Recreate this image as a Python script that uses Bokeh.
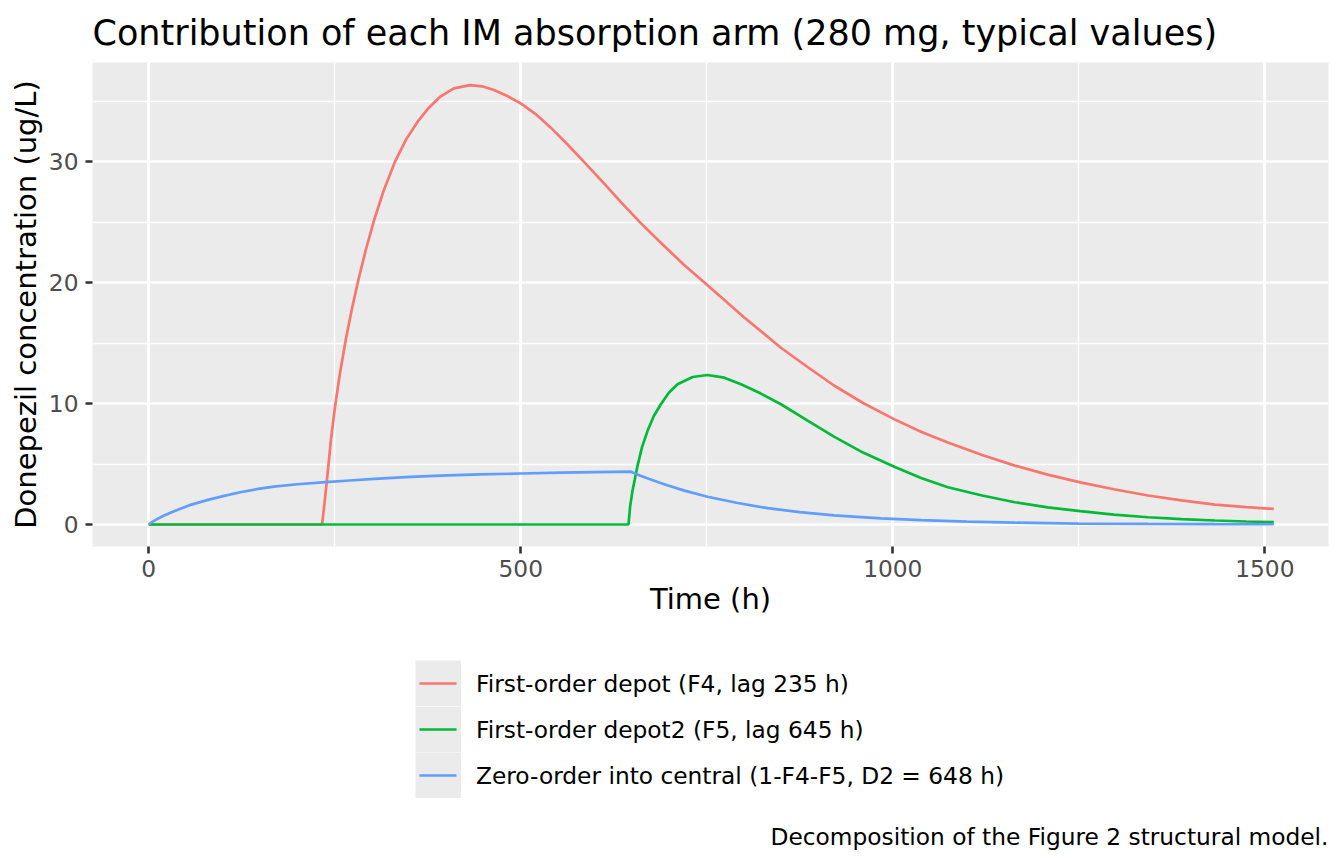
from bokeh.plotting import figure
from bokeh.layouts import column
from bokeh.models import Legend, LegendItem, FixedTicker, Label
from bokeh.embed import file_html
from bokeh.resources import INLINE

# ---- data ----
red_t = [0, 233, 236, 240, 245, 250, 257, 265, 273, 282, 292, 303, 316, 331, 346, 361, 376,
         392, 410, 432, 448, 464, 482, 501, 520, 540, 562, 585, 610, 635, 661, 690, 720, 751,
         800, 850, 885, 921, 960, 1001, 1037, 1074, 1120, 1164, 1208, 1252, 1297, 1343, 1388,
         1433, 1475, 1512]
red_y = [0, 0, 1.6, 3.95, 7.03, 9.55, 12.49, 15.33, 17.81, 20.29, 22.77, 25.19, 27.66, 30.02,
         31.86, 33.28, 34.44, 35.4, 36.08, 36.35, 36.25, 35.95, 35.45, 34.8, 33.95, 32.85, 31.5,
         30.0, 28.35, 26.65, 24.95, 23.2, 21.45, 19.8, 17.15, 14.6, 13.05, 11.5, 10.05, 8.74,
         7.7, 6.79, 5.75, 4.87, 4.13, 3.49, 2.92, 2.4, 1.99, 1.65, 1.44, 1.29]

green_t = [0, 644.8, 647, 650.2, 657, 663, 670.4, 679, 688.3, 699, 710.7, 731, 751, 773.5, 796,
           822, 849.7, 885, 921.5, 960, 1002, 1038, 1074, 1120, 1164, 1208, 1252, 1297, 1343,
           1388, 1433, 1475, 1512]
green_y = [0, 0, 1.5, 2.8, 4.87, 6.4, 7.75, 9.0, 9.95, 10.9, 11.6, 12.2, 12.37, 12.15, 11.6,
           10.85, 9.95, 8.62, 7.25, 5.95, 4.78, 3.85, 3.08, 2.4, 1.84, 1.42, 1.10, 0.82, 0.6,
           0.45, 0.33, 0.25, 0.19]

blue_t = [0, 5, 10, 20, 34, 55, 78.5, 100, 123, 145, 168, 200, 238, 270, 303, 345, 392, 445,
          500, 554, 600, 648, 660, 672, 685, 697, 720, 751, 790, 832, 875, 921, 984, 1038,
          1100, 1164, 1250, 1343, 1433, 1512]
blue_y = [0, 0.22, 0.4, 0.72, 1.1, 1.6, 2.02, 2.35, 2.67, 2.92, 3.13, 3.33, 3.5, 3.64, 3.77,
          3.92, 4.04, 4.14, 4.22, 4.29, 4.33, 4.37, 4.05, 3.78, 3.5, 3.25, 2.8, 2.3, 1.8, 1.35,
          1.02, 0.76, 0.5, 0.36, 0.23, 0.15, 0.08, 0.05, 0.03, 0.02]

labels = ["First-order depot (F4, lag 235 h)",
          "First-order depot2 (F5, lag 645 h)",
          "Zero-order into central (1-F4-F5, D2 = 648 h)"]
colors = ["#F8766D", "#00BA38", "#619CFF"]

x_ticks = [0, 500, 1000, 1500]
x_minor = [250, 750, 1250]
y_ticks = [0, 10, 20, 30]
y_minor = [5, 15, 25, 35]

title_text = "Contribution of each IM absorption arm (280 mg, typical values)"
x_label = "Time (h)"
y_label = "Donepezil concentration (ug/L)"
caption = "Decomposition of the Figure 2 structural model."

FONT = "DejaVu Sans"
PANEL = "#EBEBEB"
NAN = float("nan")

# ---------------- main panel ----------------
p = figure(width=1344, height=640, output_backend="svg", toolbar_location=None,
           x_range=(-75.5, 1585.5), y_range=(-1.82, 38.22),
           min_border_left=92, min_border_right=16, min_border_top=62, min_border_bottom=94)

p.background_fill_color = PANEL
p.border_fill_color = "white"
p.outline_line_color = None

p.title.text = title_text
p.title.text_font = FONT
p.title.text_font_size = "35px"
p.title.text_font_style = "normal"
p.title.text_color = "black"
p.title.align = "left"
p.title.offset = 0
p.title.standoff = 20

p.xaxis.ticker = FixedTicker(ticks=x_ticks, minor_ticks=x_minor)
p.yaxis.ticker = FixedTicker(ticks=y_ticks, minor_ticks=y_minor)
for ax in (p.xaxis, p.yaxis):
    ax.axis_line_color = None
    ax.major_tick_line_color = "#333333"
    ax.major_tick_line_width = 2.6
    ax.major_tick_out = 7
    ax.major_tick_in = 0
    ax.minor_tick_line_color = None
    ax.major_label_text_font = FONT
    ax.major_label_text_font_size = "23.3px"
    ax.major_label_text_color = "#4D4D4D"
    ax.axis_label_text_font = FONT
    ax.axis_label_text_font_size = "29px"
    ax.axis_label_text_font_style = "normal"
    ax.axis_label_text_color = "black"
p.xaxis.axis_label = x_label
p.yaxis.axis_label = y_label
p.xaxis.major_label_standoff = 6
p.xaxis.axis_label_standoff = 2
p.yaxis.major_label_standoff = 7
p.yaxis.axis_label_standoff = 3

for g in (p.xgrid, p.ygrid):
    g.grid_line_color = "white"
    g.grid_line_width = 2.7
    g.minor_grid_line_color = "white"
    g.minor_grid_line_width = 1.35

p.line(red_t, red_y, line_color=colors[0], line_width=2.7)
p.line(green_t, green_y, line_color=colors[1], line_width=2.7)
p.line(blue_t, blue_y, line_color=colors[2], line_width=2.7)

# ---------------- legend + caption strip ----------------
q = figure(width=1344, height=224, output_backend="svg", toolbar_location=None,
           x_range=(0, 1), y_range=(0, 1), x_axis_location=None, y_axis_location=None,
           min_border=0, min_border_left=0, min_border_right=0,
           min_border_top=0, min_border_bottom=0)
q.background_fill_color = "white"
q.border_fill_color = "white"
q.outline_line_color = None
q.grid.visible = False

# legend key decorations (draw nothing): grey key background and a shorter coloured stroke
key_bg = q.line(x=[NAN], y=[NAN], line_color=PANEL, line_width=46, line_cap="butt")
key_lines = [q.line(x=[NAN], y=[NAN], line_color=c, line_width=2.7, line_cap="butt",
                    line_dash="37 9", line_dash_offset=42) for c in colors]

legend = Legend(items=[LegendItem(label=labels[i], renderers=[key_bg, key_lines[i]])
                       for i in range(3)],
                location=(323, 66), orientation="vertical",
                padding=0, spacing=0, margin=0,
                glyph_width=46, glyph_height=46, label_height=46, label_standoff=15,
                label_text_font=FONT, label_text_font_size="23.3px", label_text_color="black",
                background_fill_alpha=0, border_line_color=None)
q.add_layout(legend)

cap = Label(x=1236, y=28, x_units="screen", y_units="screen", text=caption,
            text_align="right", text_baseline="alphabetic",
            text_font=FONT, text_font_size="23.3px", text_color="black")
q.add_layout(cap)

layout = column(p, q, spacing=0)
open("out.html", "w").write(file_html(layout, INLINE))
